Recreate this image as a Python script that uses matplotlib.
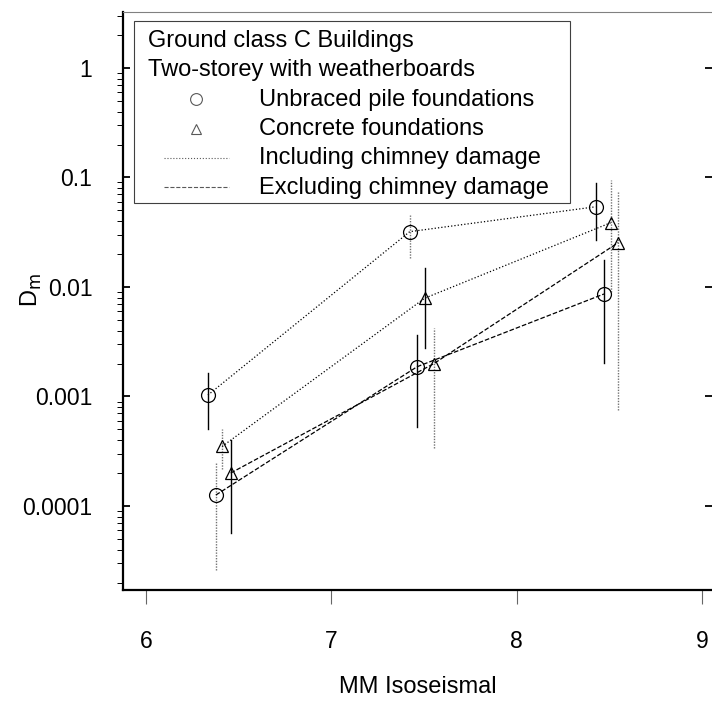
import matplotlib
matplotlib.use("Agg")
import matplotlib.pyplot as plt
from matplotlib.lines import Line2D
from matplotlib.patches import Rectangle

plt.rcParams['font.family'] = ['Liberation Sans', 'DejaVu Sans']

# x positions (MM isoseismal, offset per series) and damage ratio D_m
unbraced_incl_x = [6.334, 7.423, 8.426]
unbraced_incl_y = [0.00103, 0.032, 0.054]
unbraced_incl_lo = [0.000505, 0.0183, 0.0269]
unbraced_incl_hi = [0.00164, 0.0455, 0.0885]

concrete_incl_x = [6.411, 7.504, 8.507]
concrete_incl_y = [0.00035, 0.0079, 0.0386]
concrete_incl_lo = [0.000219, 0.00277, 0.00906]
concrete_incl_hi = [0.000505, 0.0148, 0.0948]

concrete_excl_x = [6.457, 7.554, 8.548]
concrete_excl_y = [0.0002, 0.002, 0.0254]
concrete_excl_lo = [5.66e-5, 0.000337, 0.000753]
concrete_excl_hi = [0.0004, 0.0042, 0.074]

unbraced_excl_x = [6.377, 7.463, 8.471]
unbraced_excl_y = [0.000126, 0.00187, 0.00863]
unbraced_excl_lo = [2.6e-5, 0.00053, 0.00204]
unbraced_excl_hi = [0.000252, 0.00365, 0.0177]

x_ticks = [6, 7, 8, 9]
y_ticks = [1e-4, 1e-3, 1e-2, 1e-1, 1]
y_tick_labels = ["0.0001", "0.001", "0.01", "0.1", "1"]

legend_title = ["Ground class C Buildings", "Two-storey with weatherboards"]
legend_labels = ["Unbraced pile foundations", "Concrete foundations",
                 "Including chimney damage", "Excluding chimney damage"]

W, H = 712, 701
fig = plt.figure(figsize=(W / 100, H / 100), dpi=100)


def fx(px):
    return px / W


def fy(py):
    return 1 - py / H


ax = fig.add_axes([fx(123), fy(590), 1 - fx(123), (590 - 12) / H])
ax.set_yscale('log')

series = [
    (unbraced_incl_x, unbraced_incl_y, unbraced_incl_lo, unbraced_incl_hi, 'o', ':', ['solid', 'dotted', 'solid']),
    (concrete_incl_x, concrete_incl_y, concrete_incl_lo, concrete_incl_hi, '^', ':', ['dotted', 'solid', 'dotted']),
    (concrete_excl_x, concrete_excl_y, concrete_excl_lo, concrete_excl_hi, '^', '--', ['solid', 'dotted', 'dotted']),
    (unbraced_excl_x, unbraced_excl_y, unbraced_excl_lo, unbraced_excl_hi, 'o', '--', ['dotted', 'solid', 'solid']),
]

for x, y, lo, hi, mk, ls, bar_styles in series:
    ax.plot(x, y, linestyle=ls, color='black', linewidth=0.9, zorder=2)
    ax.plot(x, y, linestyle='none', marker=mk, markersize=10 if mk == 'o' else 9,
            markerfacecolor='none', markeredgecolor='black', markeredgewidth=0.9, zorder=3)
    for xi, l, h, st in zip(x, lo, hi, bar_styles):
        if st == 'solid':
            ax.plot([xi, xi], [l, h], color='black', linewidth=1.0, zorder=1)
        else:
            ax.plot([xi, xi], [l, h], color='0.45', linewidth=1.0, linestyle=(0, (1, 1)), zorder=1)

ax.set_xlim(5.876, 9.054)
ax.set_ylim(10 ** -4.767, 10 ** 0.511)

ax.set_xticks(x_ticks)
ax.set_xticklabels([str(t) for t in x_ticks])
ax.set_yticks(y_ticks)
ax.set_yticklabels(y_tick_labels)

ax.tick_params(axis='x', which='major', length=10, width=0.8, color='0.4', pad=19, labelsize=16.5)
ax.tick_params(axis='y', which='major', length=10, width=1.3, pad=22, labelsize=16.5)
ax.tick_params(axis='y', which='minor', length=4, width=0.7, left=True)
ax.tick_params(axis='y', which='major', right=True, direction='in', length=5)
ax.tick_params(axis='y', which='minor', right=False)

ax.spines['left'].set_linewidth(1.6)
ax.spines['bottom'].set_linewidth(1.6)
ax.spines['top'].set_linewidth(0.8)
ax.spines['top'].set_color('0.5')
ax.spines['top'].set_linestyle((0, (1, 1)))
ax.spines['right'].set_visible(False)

ax.set_xlabel("MM Isoseismal", fontsize=17, va='center')
ax.xaxis.set_label_coords(0.5, (590 - 687) / 578)
ax.set_ylabel("D$_{\\mathrm{m}}$", fontsize=17, va='center')
ax.yaxis.set_label_coords((31 - 123) / 589, (590 - 290) / 578)

# legend box drawn by hand to follow the original layout
fig.add_artist(Rectangle((fx(134), fy(203)), fx(570) - fx(134), fy(21) - fy(203),
                         transform=fig.transFigure, facecolor='white',
                         edgecolor='0.25', linewidth=0.8, zorder=5))
baselines = [47, 76.3, 105.6, 134.9, 164.2, 193.5]
for text, b in zip(legend_title, baselines[:2]):
    fig.text(fx(148), fy(b), text, fontsize=17, va='baseline', ha='left', zorder=6)
for text, b in zip(legend_labels, baselines[2:]):
    fig.text(fx(259), fy(b), text, fontsize=17, va='baseline', ha='left', zorder=6)

fig.add_artist(Line2D([fx(196)], [fy(baselines[2] - 7)], transform=fig.transFigure,
                      marker='o', markersize=8.5, markerfacecolor='none',
                      markeredgecolor='0.35', markeredgewidth=0.8, zorder=6))
fig.add_artist(Line2D([fx(196)], [fy(baselines[3] - 6)], transform=fig.transFigure,
                      marker='^', markersize=7.5, markerfacecolor='none',
                      markeredgecolor='0.35', markeredgewidth=0.8, zorder=6))
fig.add_artist(Line2D([fx(164), fx(229)], [fy(baselines[4] - 6)] * 2, transform=fig.transFigure,
                      linestyle=':', color='0.35', linewidth=0.8, zorder=6))
fig.add_artist(Line2D([fx(164), fx(229)], [fy(baselines[5] - 7)] * 2, transform=fig.transFigure,
                      linestyle='--', color='0.35', linewidth=0.8, zorder=6))

fig.savefig("out.png", dpi=100)
